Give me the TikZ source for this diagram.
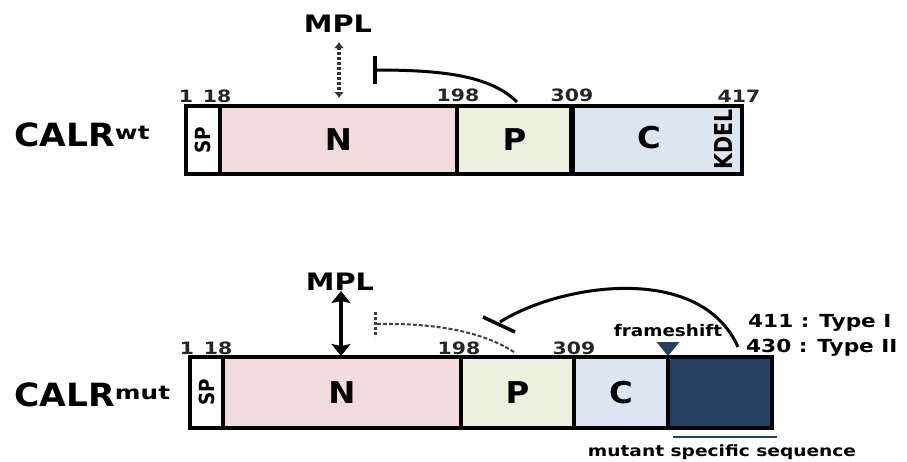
\documentclass[tikz,border=0pt]{standalone}
\usepackage{fontspec}
\setmainfont{DejaVu Sans}
\usetikzlibrary{arrows.meta}
\definecolor{nred}{HTML}{F2DCDB}
\definecolor{pgreen}{HTML}{EBF1DE}
\definecolor{cblue}{HTML}{DCE6F1}
\definecolor{navy}{HTML}{243F60}
\newcommand\wtx[3]{\scalebox{#2}[1]{\fontsize{#1}{#1}\selectfont #3}}
\newcommand\vtx[4]{\rotatebox{90}{\scalebox{#2}[#3]{\fontsize{#1}{#1}\selectfont #4}}}
\begin{document}
\begin{tikzpicture}[x=1pt,y=-1pt,font=\bfseries,
  segbox/.style={draw=black,line width=3.5pt,inner sep=0pt,outer sep=0pt,minimum height=#1},
  numlab/.style={inner sep=0pt,text=black!85},
  lbl/.style={inner sep=0pt}]
\useasboundingbox[fill=white] (0,0) rectangle (907,461);

% ---------- wild type ----------
\node[lbl,anchor=west] (wt) at (14,135) {\wtx{32}{1.08}{CALR}\raisebox{7pt}{\wtx{19}{1.3}{wt}}};
\node[segbox=68,fill=white,minimum width=34] (sp1) at (203,140) {\vtx{16}{1.15}{1.3}{SP}};
\node[segbox=68,fill=nred,minimum width=237] (n1) at (338.5,140) {\wtx{30}{1.08}{N}};
\node[segbox=68,fill=pgreen,minimum width=115] (p1) at (514.5,140) {\wtx{30}{1.08}{P}};
\node[segbox=68,fill=cblue,minimum width=170] (c1) at (657,140) {};
\draw[line width=6pt] (c1.north west) -- (c1.south west);
\node[lbl] (c1t) at (649,138) {\wtx{30}{1.08}{C}};
\node[lbl] (kdel) at (723,139) {\vtx{19}{1.08}{1.3}{KDEL}};

\node[numlab] (w1) at (186,96) {\wtx{17}{1.2}{1}};
\node[numlab] (w18) at (217,96) {\wtx{17}{1.2}{18}};
\node[numlab] (w198) at (458,95) {\wtx{17}{1.2}{198}};
\node[numlab] (w309) at (572,95) {\wtx{17}{1.2}{309}};
\node[numlab] (w417) at (739,96) {\wtx{17}{1.2}{417}};

\node[lbl] (mpl1) at (338,24) {\wtx{24}{1.2}{MPL}};
\coordinate (d1a) at (339,42);
\coordinate (d1b) at (339,98);
\draw[line width=3.5pt,dash pattern=on 3pt off 2pt,black!80,
  {Latex[length=6pt,width=10pt]}-{Latex[length=6pt,width=10pt]}] (d1a) -- (d1b);

\coordinate (i1s) at (517,102);
\coordinate (i1e) at (373,70);
\draw[line width=3pt,-{Bar[width=28pt,line width=3.5pt]}] (i1s) .. controls (490,75) and (440,70) .. (i1e);

% ---------- mutant ----------
\node[lbl,anchor=west] (mut) at (14,395) {\wtx{32}{1.08}{CALR}\raisebox{7pt}{\wtx{19}{1.3}{mut}}};
\node[segbox=71,fill=white,minimum width=33] (sp2) at (206.5,392.5) {\vtx{16}{1.15}{1.3}{SP}};
\node[segbox=71,fill=nred,minimum width=238] (n2) at (342,392.5) {\wtx{30}{1.08}{N}};
\node[segbox=71,fill=pgreen,minimum width=113] (p2) at (517.5,392.5) {\wtx{30}{1.08}{P}};
\node[segbox=71,fill=cblue,minimum width=94] (c2) at (621,392.5) {\wtx{30}{1.08}{C}};
\node[segbox=71,fill=navy,minimum width=104] (m2) at (720,392.5) {};

\node[numlab] (m1) at (187,348) {\wtx{17}{1.2}{1}};
\node[numlab] (m18) at (218,348) {\wtx{17}{1.2}{18}};
\node[numlab] (m198) at (459,348) {\wtx{17}{1.2}{198}};
\node[numlab] (m309) at (574,348) {\wtx{17}{1.2}{309}};

\node[lbl] (mpl2) at (340,282) {\wtx{24}{1.2}{MPL}};
\coordinate (a2a) at (341,291);
\coordinate (a2b) at (341,356);
\draw[line width=4.5pt,{Stealth[length=12pt,width=19pt,inset=2pt]}-{Stealth[length=12pt,width=19pt,inset=2pt]}] (a2a) -- (a2b);

% dashed (lost) inhibition
\coordinate (ds) at (514,352);
\coordinate (de) at (377,324);
\coordinate (db1) at (375,312);
\coordinate (db2) at (375,337);
\draw[line width=2pt,dash pattern=on 4pt off 2pt,black!75] (ds) .. controls (480,330) and (430,323) .. (de);
\draw[line width=3pt,dash pattern=on 3pt off 2pt,black!75] (db1) -- (db2);

% solid inhibition from mutant C terminus
\coordinate (as) at (738,347);
\coordinate (ae) at (500,322);
\draw[line width=3pt] (as) .. controls (700,262) and (560,284) .. (ae);
\draw[line width=3.5pt] (ae) ++(-17,-5) -- ++(32,15);

\node[lbl] (fst) at (668,331) {\wtx{16}{1.15}{frameshift}};
\coordinate (fsx) at (668,349);
\fill[navy] (fsx) ++(-11.5,-7) -- ++(23,0) -- ++(-11.5,14) -- cycle;

\node[lbl,anchor=west] (t1) at (748,323) {\wtx{18}{1.2}{411 : Type I}};
\node[lbl,anchor=west] (t2) at (746,348) {\wtx{18}{1.2}{430 : Type II}};

\coordinate (ml1) at (673,437);
\coordinate (ml2) at (777,437);
\draw[navy,line width=2pt] (ml1) -- (ml2);
\node[lbl] (mst) at (722,452) {\wtx{15.5}{1.2}{mutant specific sequence}};
\end{tikzpicture}
\end{document}
